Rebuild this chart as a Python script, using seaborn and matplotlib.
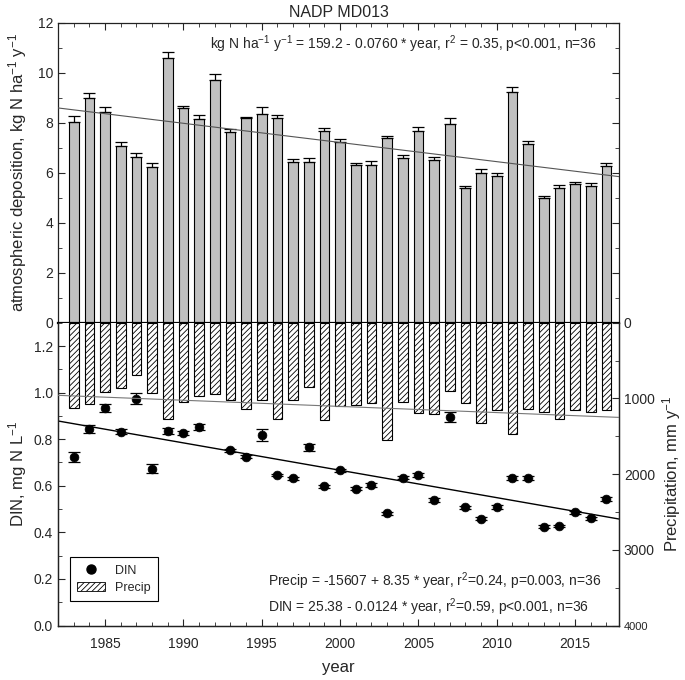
import numpy as np
import pandas as pd
import matplotlib
matplotlib.use('Agg')
import matplotlib.pyplot as plt
import seaborn as sns
from matplotlib.ticker import MultipleLocator
from matplotlib.lines import Line2D
from matplotlib.patches import Patch

# ---------------- data ----------------
years = list(range(1983, 2018))
deposition = [8.04, 8.97, 8.42, 7.08, 6.61, 6.21, 10.60, 8.57, 8.13, 9.70,
              7.61, 8.17, 8.33, 8.17, 6.41, 6.43, 7.67, 7.21, 6.31, 6.31,
              7.37, 6.57, 7.67, 6.49, 7.96, 5.37, 5.99, 5.87, 9.24, 7.16,
              4.99, 5.40, 5.56, 5.48, 6.27]
dep_err = [0.24, 0.23, 0.20, 0.13, 0.16, 0.19, 0.22, 0.11, 0.16, 0.23,
           0.14, 0.07, 0.29, 0.14, 0.14, 0.17, 0.10, 0.15, 0.07, 0.17,
           0.11, 0.15, 0.14, 0.12, 0.21, 0.11, 0.14, 0.10, 0.17, 0.12,
           0.09, 0.09, 0.08, 0.10, 0.12]
precip = [1124, 1071, 913, 868, 692, 934, 1274, 1045, 966, 939,
          1027, 1138, 1027, 1278, 1027, 851, 1291, 1098, 1085, 1055,
          1543, 1053, 1190, 1212, 899, 1066, 1318, 1155, 1472, 1142,
          1181, 1270, 1155, 1181, 1155]
din_years = [1983, 1984, 1985, 1986, 1987, 1988, 1989, 1990, 1991,
             1993, 1994, 1995, 1996, 1997, 1998, 1999, 2000, 2001, 2002,
             2003, 2004, 2005, 2006, 2007, 2008, 2009, 2010, 2011, 2012,
             2013, 2014, 2015, 2016, 2017]
din = [0.723, 0.845, 0.932, 0.832, 0.974, 0.673, 0.835, 0.828, 0.854,
       0.752, 0.725, 0.819, 0.646, 0.632, 0.766, 0.597, 0.666, 0.587, 0.603,
       0.481, 0.634, 0.646, 0.540, 0.895, 0.508, 0.458, 0.510, 0.632, 0.634,
       0.424, 0.427, 0.486, 0.461, 0.544]
din_err = [0.020, 0.017, 0.017, 0.010, 0.025, 0.020, 0.012, 0.008, 0.013,
           0.008, 0.006, 0.025, 0.006, 0.006, 0.015, 0.006, 0.008, 0.006, 0.010,
           0.006, 0.006, 0.010, 0.008, 0.020, 0.006, 0.006, 0.008, 0.008, 0.008,
           0.006, 0.006, 0.006, 0.006, 0.008]

title = "NADP MD013"
eq_dep = r"kg N ha$^{-1}$ y$^{-1}$ = 159.2 - 0.0760 * year, r$^{2}$ = 0.35, p<0.001, n=36"
eq_precip = r"Precip = -15607 + 8.35 * year, r$^{2}$=0.24, p=0.003, n=36"
eq_din = r"DIN = 25.38 - 0.0124 * year, r$^{2}$=0.59, p<0.001, n=36"

# ---------------- style ----------------
sns.set_style("ticks")
plt.rcParams['font.family'] = ['Liberation Sans', 'DejaVu Sans']
plt.rcParams['mathtext.fontset'] = 'custom'
plt.rcParams['mathtext.rm'] = 'Liberation Sans'
plt.rcParams['mathtext.it'] = 'Liberation Sans:italic'
plt.rcParams['hatch.linewidth'] = 0.6
plt.rcParams['axes.edgecolor'] = '#222222'
plt.rcParams['axes.linewidth'] = 0.9

XLIM = (1982.0, 2017.8)
fig = plt.figure(figsize=(6.85, 6.8), dpi=100)
L, W = 0.0847, 0.819
ax1 = fig.add_axes([L, 0.5254, W, 0.4412])
ax2 = fig.add_axes([L, 0.0801, W, 0.4453])
ax3 = ax2.twinx()

df_dep = pd.DataFrame({'year': years, 'dep': deposition, 'err': dep_err})
df_pr = pd.DataFrame({'year': years, 'precip': precip})
df_din = pd.DataFrame({'year': din_years, 'din': din, 'err': din_err})

# ---------------- top panel ----------------
sns.barplot(data=df_dep, x='year', y='dep', native_scale=True, width=0.62,
            color='#c0c0c0', saturation=1, edgecolor='black', linewidth=0.8,
            errorbar=None, ax=ax1, zorder=2)
ax1.errorbar(df_dep['year'], df_dep['dep'],
             yerr=[np.zeros(len(dep_err)), df_dep['err']],
             fmt='none', ecolor='black', elinewidth=0.9, capsize=4, capthick=0.9, zorder=3)
c1 = np.polyfit(years, deposition, 1)
xx = np.array(XLIM)
ax1.plot(xx, np.polyval(c1, xx), color='#555555', lw=0.8, zorder=4)
ax1.set_xlim(*XLIM)
ax1.set_ylim(0, 12)
ax1.yaxis.set_major_locator(MultipleLocator(2))
ax1.yaxis.set_minor_locator(MultipleLocator(1))
ax1.xaxis.set_major_locator(MultipleLocator(5))
ax1.xaxis.set_minor_locator(MultipleLocator(1))
ax1.tick_params(axis='x', which='both', direction='in', top=True, bottom=False,
                labelbottom=False, labeltop=False)
ax1.tick_params(axis='y', which='both', direction='in', left=True, right=True,
                labelsize=10)
ax1.tick_params(which='major', length=5)
ax1.tick_params(which='minor', length=3)
ax1.set_xlabel('')
ax1.set_ylabel(r"atmospheric deposition, kg N ha$^{-1}$ y$^{-1}$", fontsize=12)
ax1.yaxis.set_label_coords(-0.052, 0.5)
ax1.set_title(title, fontsize=11.5, pad=4)
ax1.spines['bottom'].set_linewidth(1.6)
ax1.spines['bottom'].set_color('black')
ax1.text(0.961, 0.929, eq_dep, transform=ax1.transAxes, ha='right', va='center',
         fontsize=10)

# ---------------- bottom panel: DIN ----------------
ax2.errorbar(df_din['year'], df_din['din'], yerr=df_din['err'], fmt='none',
             ecolor='black', elinewidth=0.9, capsize=4, capthick=0.9, zorder=3)
sns.scatterplot(data=df_din, x='year', y='din', color='black', s=40,
                edgecolor='black', linewidth=0.5, ax=ax2, zorder=4, legend=False)
c2 = np.polyfit(din_years, din, 1)
ax2.plot(xx, np.polyval(c2, xx), color='black', lw=1.0, zorder=2)
ax2.set_xlim(*XLIM)
ax2.set_ylim(0, 1.3)
ax2.yaxis.set_major_locator(MultipleLocator(0.2))
ax2.yaxis.set_minor_locator(MultipleLocator(0.1))
ax2.yaxis.set_major_formatter(matplotlib.ticker.FormatStrFormatter('%.1f'))
ax2.xaxis.set_major_locator(MultipleLocator(5))
ax2.xaxis.set_minor_locator(MultipleLocator(1))
ax2.tick_params(axis='both', which='both', direction='in', labelsize=10)
ax2.tick_params(axis='x', which='both', top=False, pad=8)
ax2.tick_params(which='major', length=5)
ax2.tick_params(which='minor', length=3)
ax2.set_xlabel('year', fontsize=12)
ax2.xaxis.set_label_coords(0.5, -0.115)
ax2.set_ylabel(r"DIN, mg N L$^{-1}$", fontsize=12)
ax2.yaxis.set_label_coords(-0.052, 0.5)
ax2.spines['top'].set_visible(False)

# ---------------- bottom panel: precipitation (right, inverted) ----------------
sns.barplot(data=df_pr, x='year', y='precip', native_scale=True, width=0.62,
            color='white', saturation=1, edgecolor='black', linewidth=0.8,
            hatch='//////', errorbar=None, ax=ax3, zorder=2)
c3 = np.polyfit(years, precip, 1)
ax3.plot(xx, np.polyval(c3, xx), color='#777777', lw=0.8, zorder=3)
ax3.set_xlim(*XLIM)
ax3.set_ylim(4000, 0)
ax3.yaxis.set_major_locator(MultipleLocator(1000))
ax3.yaxis.set_minor_locator(MultipleLocator(500))
ax3.tick_params(axis='y', which='both', direction='in', labelsize=10)
ax3.tick_params(which='major', length=5)
ax3.tick_params(which='minor', length=3)
ax3.set_xlabel('')
ax3.set_ylabel(r"Precipitation, mm y$^{-1}$", fontsize=12)
ax3.yaxis.set_label_coords(1.074, 0.5)
ax3.spines['top'].set_visible(False)
for lab in ax3.get_yticklabels():
    if lab.get_text() == '4000':
        lab.set_fontsize(8)
ax3.xaxis.set_visible(False)

ax3.text(0.374, 0.147, eq_precip, transform=ax3.transAxes, ha='left', va='center',
         fontsize=10)
ax3.text(0.374, 0.061, eq_din, transform=ax3.transAxes, ha='left', va='center',
         fontsize=10)

handles = [Line2D([], [], marker='o', color='black', linestyle='none',
                  markersize=6.5, label='DIN'),
           Patch(facecolor='white', edgecolor='black', hatch='//////',
                 linewidth=0.6, label='Precip')]
leg = ax3.legend(handles=handles, loc='lower left', bbox_to_anchor=(0.021, 0.081),
                 borderaxespad=0, fontsize=9, fancybox=False, framealpha=1,
                 edgecolor='black', handlelength=2.2, borderpad=0.6,
                 labelspacing=0.4)
leg.get_frame().set_linewidth(0.8)

fig.savefig('out.png', dpi=100)
